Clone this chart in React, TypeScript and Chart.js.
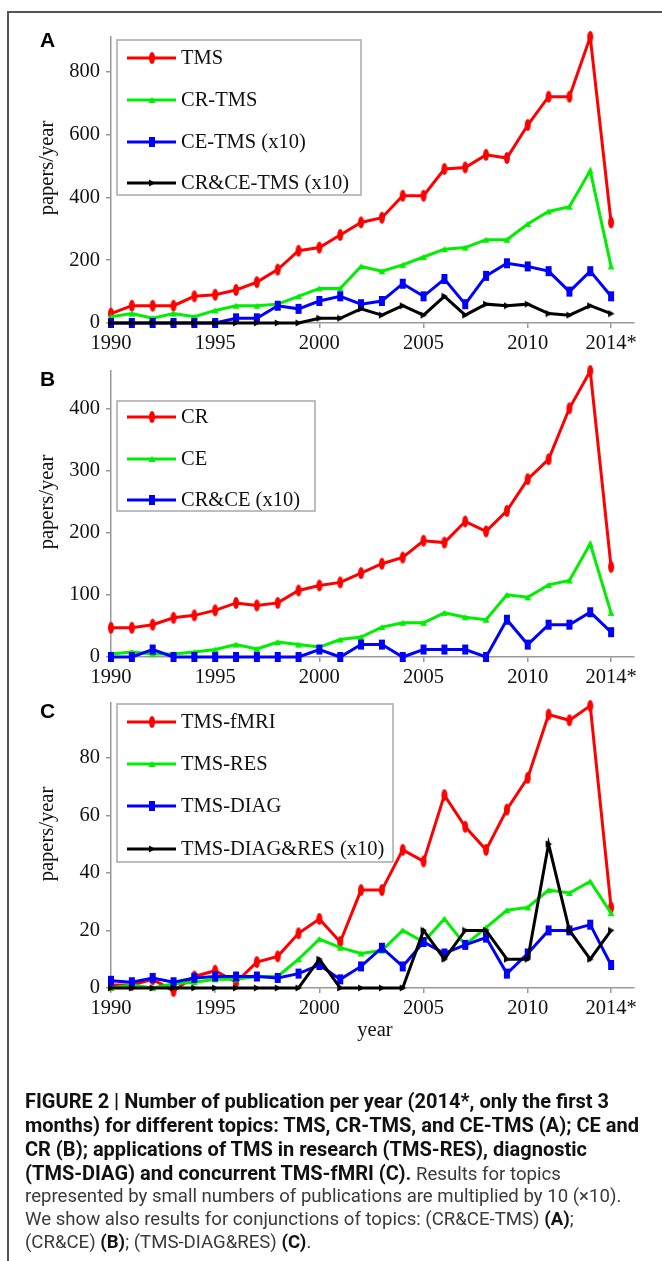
import React, { useEffect, useRef } from 'react';
import { Chart, registerables } from 'chart.js';
Chart.register(...registerables);

// ---------- data ----------
const years = [1990, 1991, 1992, 1993, 1994, 1995, 1996, 1997, 1998, 1999, 2000, 2001, 2002, 2003, 2004, 2005, 2006, 2007, 2008, 2009, 2010, 2011, 2012, 2013, 2014];
const xTickValues = [1990, 1995, 2000, 2005, 2010, 2014];
const xTickLabels = ['1990', '1995', '2000', '2005', '2010', '2014*'];

// Panel A
const aLabels = ['TMS', 'CR-TMS', 'CE-TMS (x10)', 'CR&CE-TMS (x10)'];
const aTMS = [30, 55, 55, 55, 85, 90, 105, 130, 170, 230, 240, 280, 320, 335, 405, 405, 490, 495, 535, 525, 630, 720, 720, 910, 320];
const aCRTMS = [20, 30, 15, 30, 20, 40, 55, 55, 60, 85, 110, 110, 180, 165, 185, 210, 235, 240, 265, 265, 315, 355, 370, 485, 180];
const aCETMS = [0, 0, 0, 0, 0, 0, 15, 15, 55, 45, 70, 85, 60, 70, 125, 85, 140, 60, 150, 190, 180, 165, 100, 165, 85];
const aCRCETMS = [0, 0, 0, 0, 0, 0, 0, 0, 0, 0, 15, 15, 45, 25, 55, 25, 85, 25, 60, 55, 60, 30, 25, 55, 30];
const aYTicks = [0, 200, 400, 600, 800];

// Panel B
const bLabels = ['CR', 'CE', 'CR&CE (x10)'];
const bCR = [47, 47, 52, 63, 67, 75, 87, 83, 87, 107, 115, 120, 135, 150, 160, 187, 184, 218, 202, 235, 286, 318, 400, 460, 145];
const bCE = [5, 8, 5, 5, 8, 12, 20, 13, 24, 20, 16, 28, 32, 48, 55, 55, 71, 64, 60, 100, 96, 116, 123, 182, 71];
const bCRCE = [0, 0, 12, 0, 0, 0, 0, 0, 0, 0, 12, 0, 20, 20, 0, 12, 12, 12, 0, 60, 20, 52, 52, 72, 40];
const bYTicks = [0, 100, 200, 300, 400];

// Panel C
const cLabels = ['TMS-fMRI', 'TMS-RES', 'TMS-DIAG', 'TMS-DIAG&RES (x10)'];
const cFMRI = [1, 1, 3, -1, 4, 6, 2, 9, 11, 19, 24, 16, 34, 34, 48, 44, 67, 56, 48, 62, 73, 95, 93, 98, 28];
const cRES = [0, 1, 0, 1.5, 2, 3, 3, 4, 4, 10, 17, 14, 12, 13, 20, 16, 24, 15, 21, 27, 28, 34, 33, 37, 26];
const cDIAG = [2.5, 2, 3.5, 2, 3.5, 4, 4, 4, 3.5, 5, 8, 3, 7.5, 14, 7.5, 16, 12, 15, 17.5, 5, 12, 20, 20, 22, 8];
const cDIAGRES = [0, 0, 0, 0, 0, 0, 0, 0, 0, 0, 10, 0, 0, 0, 0, 20, 10, 20, 20, 10, 10, 50, 20, 10, 20];
const cYTicks = [0, 20, 40, 60, 80];

// ---------- styles ----------
const COLORS = ['#ff0000', '#00ee00', '#0000ff', '#000000'];
const MARKERS = ['ellipse', 'triUp', 'square', 'triRight'];
const SERIF = '"Liberation Serif", "DejaVu Serif", serif';
const W = 662;
const H = 1261;

function markerCanvas(kind: string, color: string): HTMLCanvasElement {
  const c = document.createElement('canvas');
  let ctx: CanvasRenderingContext2D;
  if (kind === 'ellipse') {
    c.width = 8; c.height = 14;
    ctx = c.getContext('2d')!;
    ctx.fillStyle = color;
    ctx.beginPath(); ctx.ellipse(4, 7, 3, 6, 0, 0, Math.PI * 2); ctx.fill();
  } else if (kind === 'square') {
    c.width = 8; c.height = 12;
    ctx = c.getContext('2d')!;
    ctx.fillStyle = color;
    ctx.fillRect(1, 1, 6, 10);
  } else if (kind === 'triUp') {
    c.width = 8; c.height = 8;
    ctx = c.getContext('2d')!;
    ctx.fillStyle = color;
    ctx.beginPath(); ctx.moveTo(4, 1); ctx.lineTo(7.5, 7); ctx.lineTo(0.5, 7); ctx.closePath(); ctx.fill();
  } else {
    c.width = 8; c.height = 8;
    ctx = c.getContext('2d')!;
    ctx.fillStyle = color;
    ctx.beginPath(); ctx.moveTo(1, 0.5); ctx.lineTo(7.5, 4); ctx.lineTo(1, 7.5); ctx.closePath(); ctx.fill();
  }
  return c;
}

type PanelCfg = {
  letter: string;
  letterY: number;
  labels: string[];
  series: number[][];
  yTicks: number[];
  yMax: number;
  top: number;
  bottom: number;
  legend: { x: number; y: number; w: number; h: number; rows: number[] };
  titleY: number;
  xTitle?: boolean;
};

const panels: PanelCfg[] = [
  {
    letter: 'A', letterY: 47, labels: aLabels, series: [aTMS, aCRTMS, aCETMS, aCRCETMS],
    yTicks: aYTicks, yMax: 910, top: 37, bottom: 323,
    legend: { x: 117, y: 40, w: 244, h: 155, rows: [58, 100, 142, 183] }, titleY: 168,
  },
  {
    letter: 'B', letterY: 386, labels: bLabels, series: [bCR, bCE, bCRCE],
    yTicks: bYTicks, yMax: 460, top: 371, bottom: 657,
    legend: { x: 117, y: 401, w: 198, h: 110, rows: [417, 459, 500] }, titleY: 502,
  },
  {
    letter: 'C', letterY: 718, labels: cLabels, series: [cFMRI, cRES, cDIAG, cDIAGRES],
    yTicks: cYTicks, yMax: 99, top: 703, bottom: 988,
    legend: { x: 117, y: 704, w: 276, h: 158, rows: [722, 764, 806, 849] }, titleY: 834, xTitle: true,
  },
];

function Panel({ cfg }: { cfg: PanelCfg }) {
  const ref = useRef<HTMLCanvasElement>(null);
  useEffect(() => {
    const canvas = ref.current!;
    const markerImgs = cfg.series.map((_, i) => markerCanvas(MARKERS[i], COLORS[i]));
    const n = cfg.series.length;
    const deco = {
      id: 'deco' + cfg.letter,
      afterDraw(chart: any) {
        const ctx: CanvasRenderingContext2D = chart.ctx;
        ctx.save();
        // legend box
        const L = cfg.legend;
        ctx.fillStyle = '#ffffff';
        ctx.fillRect(L.x, L.y, L.w, L.h);
        ctx.strokeStyle = '#a8a8a8';
        ctx.lineWidth = 1.5;
        ctx.strokeRect(L.x, L.y, L.w, L.h);
        cfg.labels.forEach((lab, i) => {
          const y = L.rows[i];
          ctx.strokeStyle = COLORS[i];
          ctx.lineWidth = 3;
          ctx.beginPath(); ctx.moveTo(127, y); ctx.lineTo(176, y); ctx.stroke();
          const img = markerImgs[i];
          ctx.drawImage(img, 152 - img.width / 2, y - img.height / 2);
          ctx.fillStyle = '#111';
          ctx.font = `20.5px ${SERIF}`;
          ctx.textAlign = 'left';
          ctx.textBaseline = 'middle';
          ctx.fillText(lab, 181, y + 1);
        });
        // y title
        ctx.save();
        ctx.translate(48, cfg.titleY);
        ctx.rotate(-Math.PI / 2);
        ctx.fillStyle = '#111';
        ctx.font = `20.5px ${SERIF}`;
        ctx.textAlign = 'center';
        ctx.textBaseline = 'middle';
        ctx.fillText('papers/year', 0, 0);
        ctx.restore();
        // x title
        if (cfg.xTitle) {
          ctx.fillStyle = '#111';
          ctx.font = `20.5px ${SERIF}`;
          ctx.textAlign = 'center';
          ctx.textBaseline = 'middle';
          ctx.fillText('year', 375, 1031);
        }
        // panel letter
        ctx.fillStyle = '#000';
        ctx.font = 'bold 21px "Liberation Sans", Arial, sans-serif';
        ctx.textAlign = 'left';
        ctx.textBaseline = 'alphabetic';
        ctx.fillText(cfg.letter, 40, cfg.letterY);
        ctx.restore();
      },
    };
    const chart = new Chart(canvas, {
      type: 'line',
      data: {
        datasets: cfg.series.map((vals, i) => ({
          label: cfg.labels[i],
          data: years.map((yr, j) => ({ x: yr, y: vals[j] })),
          borderColor: COLORS[i],
          backgroundColor: COLORS[i],
          borderWidth: 3,
          pointStyle: markerImgs[i] as any,
          pointRadius: 4,
          tension: 0,
          clip: false as any,
          order: n - i,
          fill: false,
        })),
      },
      options: {
        animation: false,
        responsive: false,
        events: [],
        layout: { padding: { top: cfg.top, left: 0, right: W - 634, bottom: 0 } },
        plugins: { legend: { display: false }, tooltip: { enabled: false } },
        scales: {
          x: {
            type: 'linear',
            min: 1990,
            max: 2015.1,
            afterBuildTicks: (s: any) => { s.ticks = xTickValues.map((v) => ({ value: v })); },
            afterFit: (s: any) => { s.height = H - cfg.bottom; },
            ticks: {
              callback: (_v: any, idx: number) => xTickLabels[idx],
              font: { family: SERIF, size: 20.5 },
              color: '#111',
              padding: 3,
              maxRotation: 0,
              autoSkip: false,
            },
            grid: { display: true, drawOnChartArea: false, drawTicks: true, tickLength: 5, color: '#999', lineWidth: 1.5 },
            border: { display: true, color: '#999', width: 1.5 },
          },
          y: {
            type: 'linear',
            min: 0,
            max: cfg.yMax,
            afterBuildTicks: (s: any) => { s.ticks = cfg.yTicks.map((v) => ({ value: v })); },
            afterFit: (s: any) => { s.width = 111; },
            ticks: {
              callback: (v: any) => String(v),
              font: { family: SERIF, size: 20.5 },
              color: '#111',
              padding: 6,
            },
            grid: { display: true, drawOnChartArea: false, drawTicks: true, tickLength: 5, color: '#999', lineWidth: 1.5 },
            border: { display: true, color: '#999', width: 1.5 },
          },
        },
      },
      plugins: [deco],
    } as any);
    return () => chart.destroy();
  }, []);
  return (
    <canvas
      ref={ref}
      width={W}
      height={H}
      style={{ position: 'absolute', left: 0, top: 0, width: W, height: H }}
    />
  );
}

const captionLineCenters = [1101, 1125, 1149, 1173, 1196, 1219, 1242];

export default function App() {
  const lineStyle = (i: number, bold: boolean): React.CSSProperties => ({
    position: 'absolute',
    left: 25,
    top: captionLineCenters[i] - 12,
    height: 24,
    lineHeight: '24px',
    whiteSpace: 'nowrap',
    fontFamily: 'Roboto, "Liberation Sans", sans-serif',
    fontSize: bold ? 20 : 18.6,
    fontWeight: bold ? 700 : 400,
    color: bold ? '#111' : '#3a3a3a',
  });
  const B: React.CSSProperties = { fontWeight: 700, color: '#111' };
  return (
    <div style={{ position: 'absolute', left: 0, top: 0, width: W, height: H, overflow: 'hidden', background: '#fff' }}>
      <div style={{ position: 'absolute', left: 7, top: 11, width: 800, height: 1400, borderLeft: '2px solid #555', borderTop: '2px solid #555' }} />
      {panels.map((p) => (
        <Panel key={p.letter} cfg={p} />
      ))}
      <div style={lineStyle(0, true)}>FIGURE 2 | Number of publication per year (2014*, only the first 3</div>
      <div style={lineStyle(1, true)}>months) for different topics: TMS, CR-TMS, and CE-TMS (A); CE and</div>
      <div style={lineStyle(2, true)}>CR (B); applications of TMS in research (TMS-RES), diagnostic</div>
      <div style={lineStyle(3, false)}><span style={{ ...B, fontSize: 20 }}>(TMS-DIAG) and concurrent TMS-fMRI (C).</span> Results for topics</div>
      <div style={lineStyle(4, false)}>represented by small numbers of publications are multiplied by 10 (×10).</div>
      <div style={lineStyle(5, false)}>We show also results for conjunctions of topics: (CR&amp;CE-TMS) <span style={B}>(A)</span>;</div>
      <div style={lineStyle(6, false)}>(CR&amp;CE) <span style={B}>(B)</span>; (TMS-DIAG&amp;RES) <span style={B}>(C)</span>.</div>
    </div>
  );
}
